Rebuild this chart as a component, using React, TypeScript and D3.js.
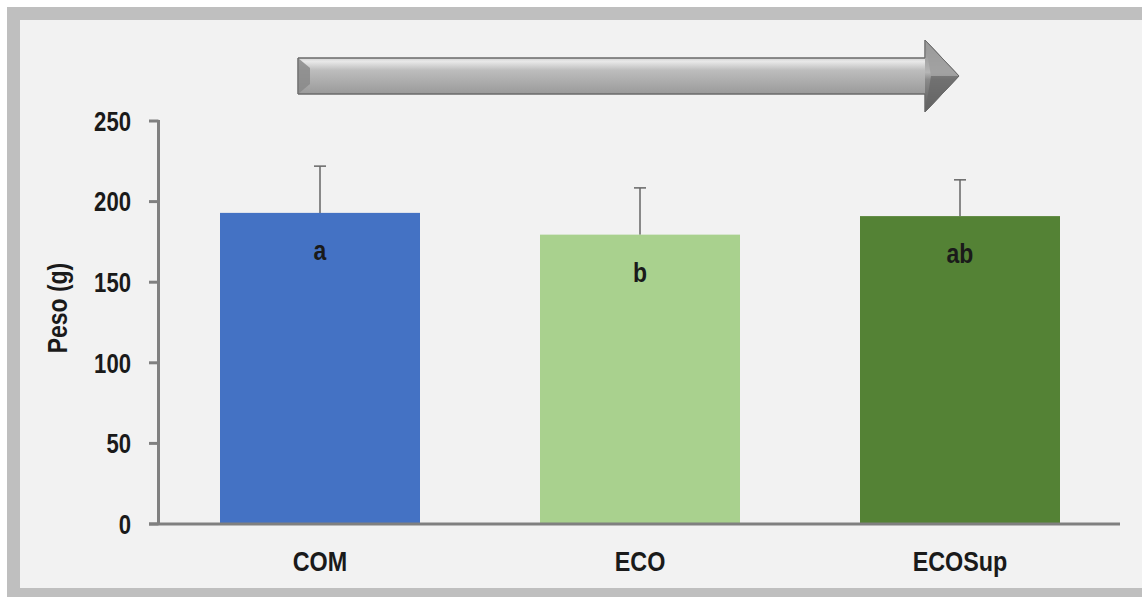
import React from 'react';
import * as d3 from 'd3';

const WIDTH = 1142;
const HEIGHT = 597;

const categories = ['COM', 'ECO', 'ECOSup'];
const means = [193, 179.5, 191];
const errors = [29, 29, 22.5];
const letters = ['a', 'b', 'ab'];
const colors = ['#4472c4', '#a9d18e', '#548235'];
const yTicks = [0, 50, 100, 150, 200, 250];

const FONT = '"Liberation Sans", Arial, sans-serif';
const AXIS_COLOR = '#808080';
const TEXT_COLOR = '#1a1a1a';
// narrow look (Arial Narrow is not installed): squeeze text horizontally
const SQUEEZE = 0.82;

interface INarrowText {
    x: number;
    y: number;
    size: number;
    anchor?: 'start' | 'middle' | 'end';
    dy?: string;
    rotate?: number;
    children: React.ReactNode;
}

const NarrowText = ({x, y, size, anchor = 'middle', dy, rotate = 0, children}: INarrowText) => (
    <g transform={`translate(${x},${y}) rotate(${rotate}) scale(${SQUEEZE},1)`}>
        <text textAnchor={anchor} dy={dy} fontFamily={FONT} fontWeight="bold"
              fontSize={size} fill={TEXT_COLOR}>{children}</text>
    </g>
);

export default function App() {
    const margin = {top: 121, bottom: 524, left: 160, right: 1120};

    const x = d3.scaleBand<string>()
        .domain(categories)
        .range([margin.left, margin.right])
        .paddingInner(0.375)
        .paddingOuter(0.1875);

    const y = d3.scaleLinear()
        .domain([0, 250])
        .range([margin.bottom, margin.top]);

    const bw = x.bandwidth();

    // arrow geometry
    const ax0 = 298, ax1 = 925, ax2 = 959;
    const sy0 = 58, sy1 = 94, hy0 = 40, hy1 = 112, tipY = 76;
    const arrowPath = `M${ax0},${sy0} L${ax1},${sy0} L${ax1},${hy0} L${ax2},${tipY} L${ax1},${hy1} L${ax1},${sy1} L${ax0},${sy1} Z`;

    return (
        <svg width={WIDTH} height={HEIGHT}
             style={{position: 'absolute', left: 0, top: 0, display: 'block'}}>
            <defs>
                <linearGradient id="shaft" x1="0" y1="0" x2="0" y2="1">
                    <stop offset="0" stopColor="#7a7a7a"/>
                    <stop offset="0.12" stopColor="#a6a6a6"/>
                    <stop offset="0.3" stopColor="#e8e8e8"/>
                    <stop offset="0.42" stopColor="#bdbdbd"/>
                    <stop offset="0.75" stopColor="#9a9a9a"/>
                    <stop offset="0.9" stopColor="#6f6f6f"/>
                    <stop offset="1" stopColor="#5e5e5e"/>
                </linearGradient>
                <linearGradient id="head" x1="0" y1="0" x2="0" y2="1">
                    <stop offset="0" stopColor="#8c8c8c"/>
                    <stop offset="0.45" stopColor="#b5b5b5"/>
                    <stop offset="0.55" stopColor="#8a8a8a"/>
                    <stop offset="1" stopColor="#5a5a5a"/>
                </linearGradient>
            </defs>

            {/* frame */}
            <rect x={7} y={7} width={WIDTH} height={HEIGHT} fill="#bfbfbf"/>
            <rect x={20} y={20} width={WIDTH} height={568} fill="#f2f2f2"/>

            {/* arrow */}
            <path d={arrowPath} fill="url(#shaft)" stroke="#6a6a6a" strokeWidth={1}/>
            <path d={`M${ax1},${hy0} L${ax2},${tipY} L${ax1},${hy1} Z`} fill="url(#head)"/>
            <path d={`M${ax1},${hy0} L${ax2},${tipY} L${ax1 + 6},${tipY} Z`} fill="#9e9e9e" opacity={0.8}/>
            <path d={`M${ax1},${hy1} L${ax2},${tipY} L${ax1 + 6},${tipY} Z`} fill="#666" opacity={0.7}/>
            <path d={`M${ax0},${sy0} L${ax0 + 12},${sy0 + 10} L${ax0 + 12},${sy1 - 10} L${ax0},${sy1} Z`}
                  fill="#8a8a8a" opacity={0.85}/>
            <path d={arrowPath} fill="none" stroke="#6a6a6a" strokeWidth={1}/>

            {/* error bars (plus only) */}
            {categories.map((c, i) => {
                const cx = (x(c) ?? 0) + bw / 2;
                const top = y(means[i] + errors[i]);
                return (
                    <g key={`err-${c}`} stroke="#666" strokeWidth={1.5}>
                        <line x1={cx} x2={cx} y1={y(means[i])} y2={top}/>
                        <line x1={cx - 6} x2={cx + 6} y1={top} y2={top}/>
                    </g>
                );
            })}

            {/* bars */}
            {categories.map((c, i) => (
                <rect key={c} x={x(c)} y={y(means[i])} width={bw}
                      height={y(0) - y(means[i])} fill={colors[i]}/>
            ))}

            {/* significance letters */}
            {categories.map((c, i) => (
                <NarrowText key={`l-${c}`} x={(x(c) ?? 0) + bw / 2} y={y(means[i]) + 47}
                            size={28}>{letters[i]}</NarrowText>
            ))}

            {/* y axis */}
            <line x1={margin.left - 1.5} x2={margin.left - 1.5} y1={y(250) - 1} y2={y(0) + 1}
                  stroke={AXIS_COLOR} strokeWidth={3}/>
            {yTicks.map(t => (
                <g key={t}>
                    <line x1={149} x2={margin.left - 1.5} y1={y(t)} y2={y(t)} stroke={AXIS_COLOR} strokeWidth={3}/>
                    <NarrowText x={131} y={y(t)} dy="0.36em" anchor="end" size={27}>{t}</NarrowText>
                </g>
            ))}

            {/* x axis */}
            <line x1={149} x2={margin.right} y1={y(0)} y2={y(0)} stroke={AXIS_COLOR} strokeWidth={3}/>
            {categories.map(c => (
                <NarrowText key={`x-${c}`} x={(x(c) ?? 0) + bw / 2} y={571} size={28.5}>{c}</NarrowText>
            ))}

            {/* y title */}
            <NarrowText x={67} y={308} rotate={-90} size={28}>Peso (g)</NarrowText>
        </svg>
    );
}
